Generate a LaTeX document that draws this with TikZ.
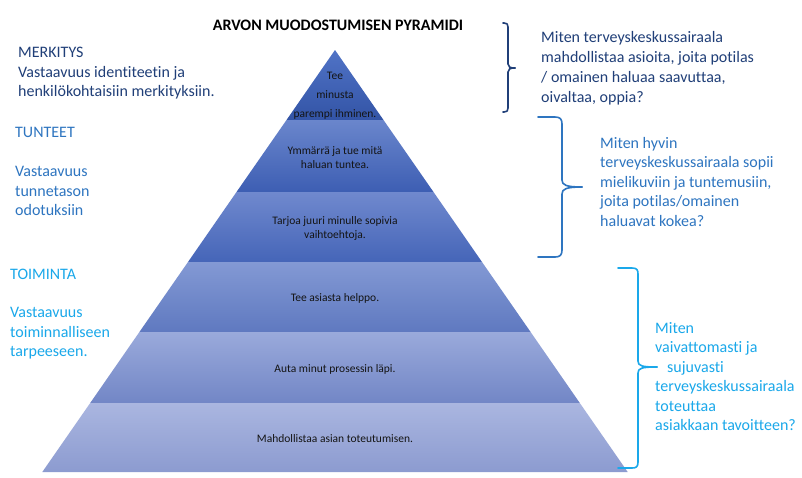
\documentclass[tikz,border=0pt]{standalone}
\usepackage{fontspec}
\setmainfont{Carlito}[Ligatures=NoCommon]
\definecolor{navytxt}{HTML}{203F78}
\definecolor{midblue}{HTML}{2E75C0}
\definecolor{skyblue}{HTML}{1AA8EA}
\definecolor{layAtop}{HTML}{5073C6}
\definecolor{layAbot}{HTML}{3354A6}
\definecolor{layBtop}{HTML}{6A86CC}
\definecolor{layBbot}{HTML}{3D5EB3}
\definecolor{layCtop}{HTML}{7089CE}
\definecolor{layCbot}{HTML}{4565B8}
\definecolor{layDtop}{HTML}{8399D4}
\definecolor{layDbot}{HTML}{5F79C0}
\definecolor{layEtop}{HTML}{9AAADB}
\definecolor{layEbot}{HTML}{7286C6}
\definecolor{layFtop}{HTML}{AAB6E0}
\definecolor{layFbot}{HTML}{8C9BD0}
\begin{document}
% multi-line nodes are placed by the baseline of their last line
\begin{tikzpicture}[x=1pt,y=-1pt,
  sidetext/.style={inner sep=0pt, align=left, anchor=base west,
    font=\fontsize{16}{19.5}\selectfont},
  layertext/.style={inner sep=0pt, align=center, anchor=base,
    font=\fontsize{11.5}{14}\selectfont, text=black!92},
  bracestroke/.style={line width=1.6pt, line cap=round, line join=round}]
\fill[white] (0,0) rectangle (802,477);
\useasboundingbox (0,0) rectangle (802,477);

% pyramid outline points, edge slope about 0.6935
\coordinate (apex) at (335,50);
\coordinate (l1) at (286.5,120); \coordinate (r1) at (383.5,120);
\coordinate (l2) at (236.5,192); \coordinate (r2) at (433.5,192);
\coordinate (l3) at (188,262);   \coordinate (r3) at (482,262);
\coordinate (l4) at (139.4,332); \coordinate (r4) at (530.6,332);
\coordinate (l5) at (90.2,403);  \coordinate (r5) at (579.8,403);
\coordinate (l6) at (42.3,472);  \coordinate (r6) at (627.7,472);

% layers, lighter at the top of each band
\shade[top color=layAtop, bottom color=layAbot] (apex) -- (r1) -- (l1) -- cycle;
\shade[top color=layBtop, bottom color=layBbot] (l1) -- (r1) -- (r2) -- (l2) -- cycle;
\shade[top color=layCtop, bottom color=layCbot] (l2) -- (r2) -- (r3) -- (l3) -- cycle;
\shade[top color=layDtop, bottom color=layDbot] (l3) -- (r3) -- (r4) -- (l4) -- cycle;
\shade[top color=layEtop, bottom color=layEbot] (l4) -- (r4) -- (r5) -- (l5) -- cycle;
\shade[top color=layFtop, bottom color=layFbot] (l5) -- (r5) -- (r6) -- (l6) -- cycle;

% layer texts
\node[layertext, font=\fontsize{11.5}{19}\selectfont] (t1) at (335,117) {Tee\\minusta\\parempi ihminen.};
\node[layertext] (t2) at (335,168) {Ymmärrä ja tue mitä\\haluan tuntea.};
\node[layertext] (t3) at (335,238) {Tarjoa juuri minulle sopivia\\vaihtoehtoja.};
\node[layertext] (t4) at (335,301) {Tee asiasta helppo.};
\node[layertext] (t5) at (335,372) {Auta minut prosessin läpi.};
\node[layertext] (t6) at (335,442) {Mahdollistaa asian toteutumisen.};

% title
\node[inner sep=0pt, anchor=base, font=\fontsize{16}{19}\selectfont\bfseries] (title) at (338,30) {ARVON MUODOSTUMISEN PYRAMIDI};

% left-hand descriptions
\node[sidetext, text=navytxt] (merk) at (18,96.5) {MERKITYS\\Vastaavuus identiteetin ja\\henkilökohtaisiin merkityksiin.};
\node[sidetext, text=midblue] (tunt) at (15,137) {TUNTEET};
\node[sidetext, text=midblue] (tuntd) at (15,215.5) {Vastaavuus\\tunnetason\\odotuksiin};
\node[sidetext, text=skyblue] (toim) at (10,279) {TOIMINTA};
\node[sidetext, text=skyblue] (toimd) at (10,356.5) {Vastaavuus\\toiminnalliseen\\tarpeeseen.};

% right-hand questions
\node[sidetext, text=navytxt, font=\fontsize{16}{20}\selectfont] (q1) at (541,102) {Miten terveyskeskussairaala\\mahdollistaa asioita, joita potilas\\/ omainen haluaa saavuttaa,\\oivaltaa, oppia?};
\node[sidetext, text=midblue] (q2) at (600,226) {Miten hyvin\\terveyskeskussairaala sopii\\mielikuviin ja tuntemusiin,\\joita potilas/omainen\\haluavat kokea?};
\node[sidetext, text=skyblue] (q3) at (655,430.5) {Miten\\vaivattomasti ja\\\hspace*{12pt}sujuvasti\\terveyskeskussairaala\\toteuttaa\\asiakkaan tavoitteen?};

% braces
\draw[bracestroke, navytxt] (503,23) -- (504,23) .. controls (507,23) and (508,24) .. (508,27) -- (508,64)
  .. controls (508,67) and (510,68) .. (515,68);
\draw[bracestroke, navytxt] (515,68) .. controls (510,68) and (508,69) .. (508,72) -- (508,108)
  .. controls (508,111) and (507,112) .. (504,112) -- (503,112);

\draw[bracestroke, midblue] (538,117) -- (555,117) .. controls (560,117) and (562,119) .. (562,124) -- (562,180)
  .. controls (562,185) and (566,187) .. (582,187);
\draw[bracestroke, midblue] (582,187) .. controls (566,187) and (562,189) .. (562,194) -- (562,250)
  .. controls (562,255) and (560,257) .. (555,257) -- (538,257);

\draw[bracestroke, skyblue] (618,268) -- (632,268) .. controls (637,268) and (638,270) .. (638,274) -- (638,361)
  .. controls (638,366) and (642,367) .. (657,367);
\draw[bracestroke, skyblue] (657,367) .. controls (642,367) and (638,368) .. (638,373) -- (638,462)
  .. controls (638,467) and (636,468) .. (632,468) -- (618,468);
\end{tikzpicture}
\end{document}
